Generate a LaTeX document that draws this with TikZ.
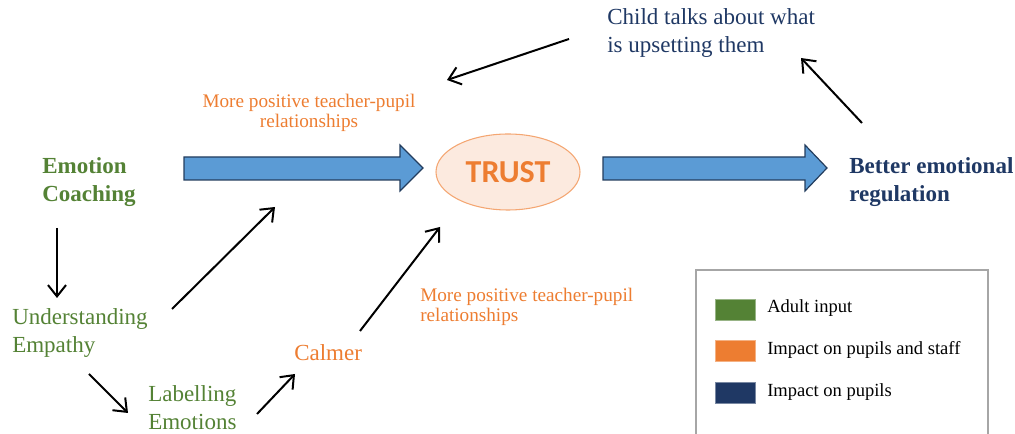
\documentclass[tikz,border=0pt]{standalone}
\usepackage{fontspec}
\setmainfont{Liberation Serif}
\newfontfamily\calib{Carlito}
\usetikzlibrary{arrows.meta,shapes.geometric}
\definecolor{ecgreen}{HTML}{548235}
\definecolor{ecorange}{HTML}{ED7D31}
\definecolor{ecnavy}{HTML}{1F3864}
\definecolor{ecblue}{HTML}{5B9BD5}
\definecolor{ecblueline}{HTML}{233D5E}
\definecolor{ecpeach}{HTML}{FCEADF}
\definecolor{ecpeachline}{HTML}{F4A672}
\definecolor{ecgray}{HTML}{A6A6A6}
\tikzset{
  big/.style={font=\fontsize{17.25}{21}\selectfont, inner sep=0pt, anchor=north west, align=left},
  bigbold/.style={big, font=\fontsize{17.25}{21}\selectfont\bfseries},
  small/.style={font=\fontsize{14.4}{15}\selectfont, inner sep=0pt, text=ecorange},
  legtext/.style={font=\fontsize{13.9}{16}\selectfont, inner sep=0pt, anchor=base west},
  thin/.style={draw=black, line width=1.5pt, -{Straight Barb[length=8.5pt,width=13.5pt,line width=1.5pt]}},
  blockarrow/.style={fill=ecblue, draw=ecblueline, line width=0.9pt, line join=miter},
  swatch/.style={minimum width=30pt, minimum height=16pt, inner sep=0pt, anchor=north west}
}
\begin{document}
\begin{tikzpicture}[x=0.75pt, y=-0.75pt]
\useasboundingbox (0,0) rectangle (1015,434);
% texts
\node[bigbold, text=ecgreen] (ec) at (42,157) {Emotion\\Coaching};
\node[bigbold, text=ecnavy] (ber) at (849,157) {Better emotional\\regulation};
\node[big, text=ecnavy] (child) at (607,8) {Child talks about what\\is upsetting them};
\node[big, text=ecgreen] (ue) at (12,308) {Understanding\\Empathy};
\node[big, text=ecgreen] (le) at (148,385) {Labelling\\Emotions};
\node[big, text=ecorange] (calm) at (294,344) {Calmer};
\node[small, align=center, anchor=north] (mp1) at (309,94) {More positive teacher-pupil\\relationships};
\node[small, align=left, anchor=north west] (mp2) at (420,288) {More positive teacher-pupil\\relationships};
% trust
\node[ellipse, draw=ecpeachline, fill=ecpeach, line width=0.8pt, minimum width=108pt, minimum height=57pt, inner sep=0pt] (trust) at (508,172) {};
\node[font=\calib\bfseries\fontsize{24}{26}\selectfont, text=ecorange, inner sep=0pt] at (trust.center) {TRUST};
% block arrows
\draw[blockarrow] (184,157) -- (400,157) -- (400,145) -- (423,168) -- (400,191) -- (400,180) -- (184,180) -- cycle;
\draw[blockarrow] (603,157) -- (805,157) -- (805,145) -- (827,168) -- (805,191) -- (805,180) -- (603,180) -- cycle;
% thin arrows
\coordinate (d1) at (57,228);
\coordinate (d2) at (57,298);
\coordinate (u1) at (172,309);
\coordinate (u2) at (275,207);
\coordinate (l1) at (89,374);
\coordinate (l2) at (128,413);
\coordinate (c1) at (257,414);
\coordinate (c2) at (295,374);
\coordinate (t1) at (360,331);
\coordinate (t2) at (440,227);
\coordinate (k1) at (569,39);
\coordinate (k2) at (447,80);
\coordinate (r1) at (862,123);
\coordinate (r2) at (801,58);
\draw[thin] (d1) -- (d2);
\draw[thin] (u1) -- (u2);
\draw[thin] (l1) -- (l2);
\draw[thin] (c1) -- (c2);
\draw[thin] (t1) -- (t2);
\draw[thin] (k1) -- (k2);
\draw[thin] (r1) -- (r2);
% legend
\draw[ecgray, line width=1pt] (696,434) -- (696,270) -- (988,270) -- (988,434);
\node[swatch, fill=ecgreen, draw=ecgreen!60] (sg) at (715,299) {};
\node[swatch, fill=ecorange, draw=ecorange!60] (so) at (715,340) {};
\node[swatch, fill=ecnavy, draw=ecnavy!60] (sn) at (715,382) {};
\node[legtext] (lg) at (767,313) {Adult input};
\node[legtext] (lo) at (767,355) {Impact on pupils and staff};
\node[legtext] (ln) at (767,397) {Impact on pupils};
\end{tikzpicture}
\end{document}
